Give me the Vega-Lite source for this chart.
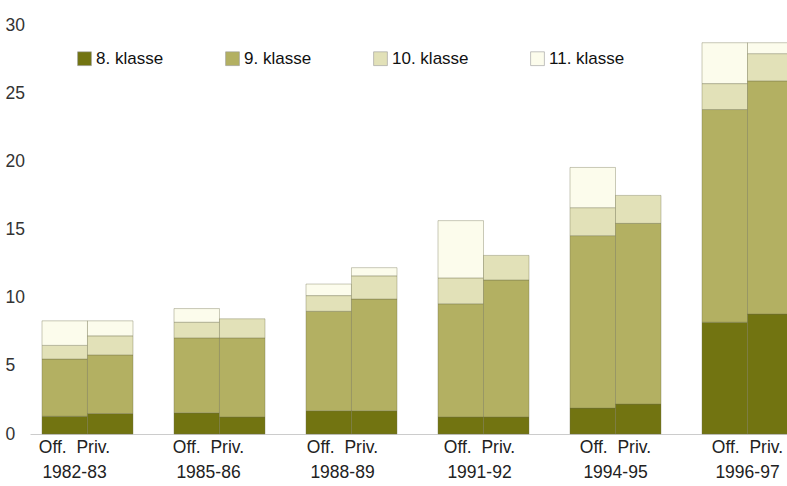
{
  "$schema": "https://vega.github.io/schema/vega-lite/v6.json",
  "width": 757,
  "height": 409,
  "autosize": "none",
  "padding": {"left": 30, "top": 25, "right": 0, "bottom": 52},
  "background": "white",
  "config": {"view": {"stroke": null}},
  "data": {"values": [
    {"year": "1982-83", "sector": "Off.", "klasse": "8. klasse", "trinn": 8, "value": 1.3},
    {"year": "1982-83", "sector": "Off.", "klasse": "9. klasse", "trinn": 9, "value": 4.2},
    {"year": "1982-83", "sector": "Off.", "klasse": "10. klasse", "trinn": 10, "value": 1.0},
    {"year": "1982-83", "sector": "Off.", "klasse": "11. klasse", "trinn": 11, "value": 1.8},
    {"year": "1982-83", "sector": "Priv.", "klasse": "8. klasse", "trinn": 8, "value": 1.5},
    {"year": "1982-83", "sector": "Priv.", "klasse": "9. klasse", "trinn": 9, "value": 4.3},
    {"year": "1982-83", "sector": "Priv.", "klasse": "10. klasse", "trinn": 10, "value": 1.4},
    {"year": "1982-83", "sector": "Priv.", "klasse": "11. klasse", "trinn": 11, "value": 1.1},
    {"year": "1985-86", "sector": "Off.", "klasse": "8. klasse", "trinn": 8, "value": 1.55},
    {"year": "1985-86", "sector": "Off.", "klasse": "9. klasse", "trinn": 9, "value": 5.5},
    {"year": "1985-86", "sector": "Off.", "klasse": "10. klasse", "trinn": 10, "value": 1.15},
    {"year": "1985-86", "sector": "Off.", "klasse": "11. klasse", "trinn": 11, "value": 1.0},
    {"year": "1985-86", "sector": "Priv.", "klasse": "8. klasse", "trinn": 8, "value": 1.25},
    {"year": "1985-86", "sector": "Priv.", "klasse": "9. klasse", "trinn": 9, "value": 5.8},
    {"year": "1985-86", "sector": "Priv.", "klasse": "10. klasse", "trinn": 10, "value": 1.4},
    {"year": "1988-89", "sector": "Off.", "klasse": "8. klasse", "trinn": 8, "value": 1.7},
    {"year": "1988-89", "sector": "Off.", "klasse": "9. klasse", "trinn": 9, "value": 7.3},
    {"year": "1988-89", "sector": "Off.", "klasse": "10. klasse", "trinn": 10, "value": 1.15},
    {"year": "1988-89", "sector": "Off.", "klasse": "11. klasse", "trinn": 11, "value": 0.85},
    {"year": "1988-89", "sector": "Priv.", "klasse": "8. klasse", "trinn": 8, "value": 1.7},
    {"year": "1988-89", "sector": "Priv.", "klasse": "9. klasse", "trinn": 9, "value": 8.2},
    {"year": "1988-89", "sector": "Priv.", "klasse": "10. klasse", "trinn": 10, "value": 1.7},
    {"year": "1988-89", "sector": "Priv.", "klasse": "11. klasse", "trinn": 11, "value": 0.6},
    {"year": "1991-92", "sector": "Off.", "klasse": "8. klasse", "trinn": 8, "value": 1.25},
    {"year": "1991-92", "sector": "Off.", "klasse": "9. klasse", "trinn": 9, "value": 8.3},
    {"year": "1991-92", "sector": "Off.", "klasse": "10. klasse", "trinn": 10, "value": 1.9},
    {"year": "1991-92", "sector": "Off.", "klasse": "11. klasse", "trinn": 11, "value": 4.2},
    {"year": "1991-92", "sector": "Priv.", "klasse": "8. klasse", "trinn": 8, "value": 1.25},
    {"year": "1991-92", "sector": "Priv.", "klasse": "9. klasse", "trinn": 9, "value": 10.05},
    {"year": "1991-92", "sector": "Priv.", "klasse": "10. klasse", "trinn": 10, "value": 1.8},
    {"year": "1994-95", "sector": "Off.", "klasse": "8. klasse", "trinn": 8, "value": 1.9},
    {"year": "1994-95", "sector": "Off.", "klasse": "9. klasse", "trinn": 9, "value": 12.65},
    {"year": "1994-95", "sector": "Off.", "klasse": "10. klasse", "trinn": 10, "value": 2.05},
    {"year": "1994-95", "sector": "Off.", "klasse": "11. klasse", "trinn": 11, "value": 2.95},
    {"year": "1994-95", "sector": "Priv.", "klasse": "8. klasse", "trinn": 8, "value": 2.2},
    {"year": "1994-95", "sector": "Priv.", "klasse": "9. klasse", "trinn": 9, "value": 13.25},
    {"year": "1994-95", "sector": "Priv.", "klasse": "10. klasse", "trinn": 10, "value": 2.05},
    {"year": "1996-97", "sector": "Off.", "klasse": "8. klasse", "trinn": 8, "value": 8.2},
    {"year": "1996-97", "sector": "Off.", "klasse": "9. klasse", "trinn": 9, "value": 15.6},
    {"year": "1996-97", "sector": "Off.", "klasse": "10. klasse", "trinn": 10, "value": 1.9},
    {"year": "1996-97", "sector": "Off.", "klasse": "11. klasse", "trinn": 11, "value": 3.0},
    {"year": "1996-97", "sector": "Priv.", "klasse": "8. klasse", "trinn": 8, "value": 8.8},
    {"year": "1996-97", "sector": "Priv.", "klasse": "9. klasse", "trinn": 9, "value": 17.1},
    {"year": "1996-97", "sector": "Priv.", "klasse": "10. klasse", "trinn": 10, "value": 2.0},
    {"year": "1996-97", "sector": "Priv.", "klasse": "11. klasse", "trinn": 11, "value": 0.8}
  ]},
  "mark": {"type": "bar", "stroke": "#6b6b45", "strokeWidth": 0.6, "strokeOpacity": 0.6},
  "encoding": {
    "x": {
      "field": "year", "type": "nominal", "sort": null,
      "scale": {"range": [0, 775], "paddingInner": 0.3106, "paddingOuter": 0.0909},
      "axis": {
        "title": null, "labelAngle": 0, "ticks": false, "tickSize": 0,
        "domain": true, "domainColor": "#cccccc", "domainWidth": 1,
        "labelExpr": "['Off.\u00a0\u00a0Priv.', datum.label]",
        "labelFont": "Liberation Sans",
        "labelFontSize": 17.5, "labelColor": "#222222",
        "labelBaseline": "top", "labelPadding": 4, "labelLineHeight": 25,
        "labelOffset": {
          "condition": [
            {"test": "datum.value == '1982-83'", "value": -13},
            {"test": "datum.value == '1985-86'", "value": -11},
            {"test": "datum.value == '1988-89'", "value": -9},
            {"test": "datum.value == '1991-92'", "value": -4}
          ],
          "value": 0
        }
      }
    },
    "xOffset": {
      "field": "sector", "type": "nominal", "sort": ["Off.", "Priv."],
      "scale": {"paddingInner": 0, "paddingOuter": 0}
    },
    "y": {
      "field": "value", "type": "quantitative", "stack": "zero",
      "scale": {"domain": [0, 30], "nice": false},
      "axis": {
        "title": null, "values": [0, 5, 10, 15, 20, 25, 30], "grid": false,
        "domain": false, "ticks": false, "tickSize": 0,
        "labelAlign": "left", "labelPadding": 25,
        "labelFont": "Liberation Sans",
        "labelFontSize": 17.5, "labelColor": "#333333"
      }
    },
    "order": {"field": "trinn", "type": "quantitative", "sort": "ascending"},
    "color": {
      "field": "klasse", "type": "nominal",
      "sort": ["8. klasse", "9. klasse", "10. klasse", "11. klasse"],
      "scale": {
        "domain": ["8. klasse", "9. klasse", "10. klasse", "11. klasse"],
        "range": ["#727411", "#b3b062", "#e2e1b8", "#fcfcec"]
      },
      "legend": {
        "title": null, "orient": "none", "direction": "horizontal",
        "legendX": 46, "legendY": 25, "padding": 0,
        "symbolType": "square", "symbolSize": 190,
        "symbolStrokeColor": "#999999", "symbolStrokeWidth": 0.6,
        "labelFont": "Liberation Sans", "labelFontSize": 17, "labelColor": "#111111",
        "labelOffset": 3, "columnPadding": 60
      }
    }
  }
}
